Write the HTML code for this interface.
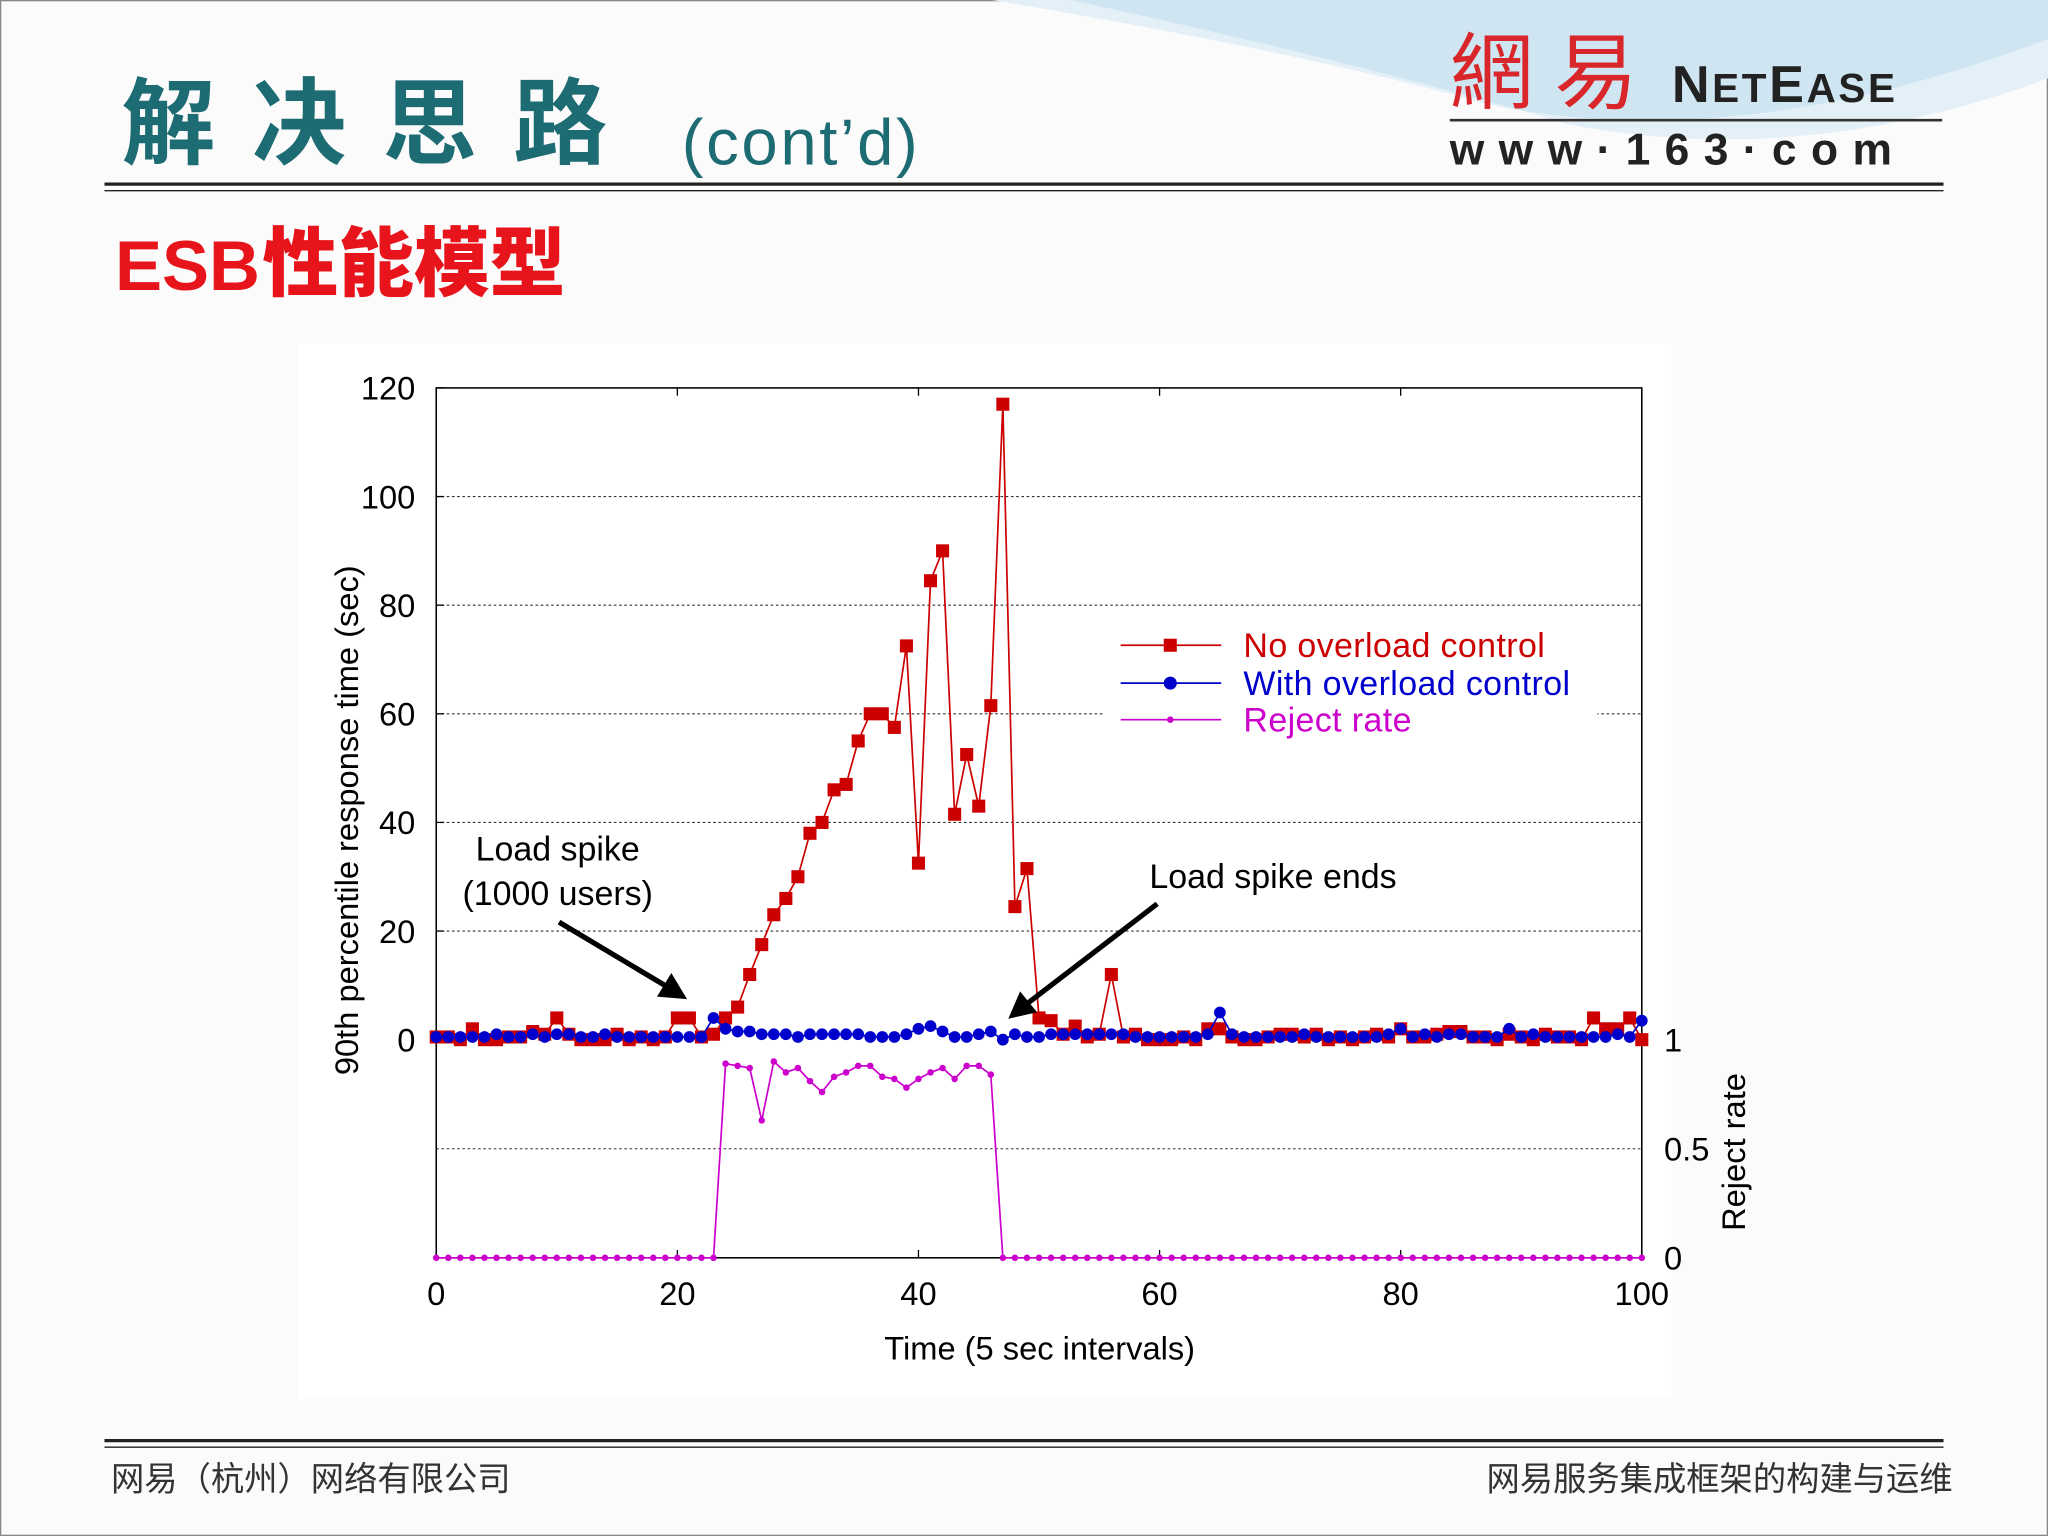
<!DOCTYPE html>
<html><head><meta charset="utf-8">
<style>
html,body{margin:0;padding:0;background:#fff;}
svg{display:block;}
text{font-family:"Liberation Sans","Noto Sans CJK SC",sans-serif;}
</style></head>
<body>
<svg id="root" width="2048" height="1536" viewBox="0 0 1568 1176" xmlns="http://www.w3.org/2000/svg">
<rect x="0" y="0" width="1568" height="1176" fill="#fbfbfb"/>
<rect x="0.5" y="0.5" width="1567" height="1175" fill="none" stroke="#888"/>
<path d="M760 0 Q1000 40 1140 80 Q1330 120 1568 30 L1568 0 Z" fill="#cfe6f2"/>
<path d="M820 0 Q1050 50 1200 95 Q1380 130 1568 60 L1568 30 Q1330 120 1140 80 Q1000 40 760 0Z" fill="#e4f0f7"/>
<text x="93" y="120" font-size="72" font-weight="bold" fill="#1d6b73" letter-spacing="28" font-family="'Noto Serif CJK SC',serif">解决思路</text>
<text x="522" y="126" font-size="50" fill="#1d6b73" letter-spacing="2">(cont’d)</text>
<text x="1110" y="78" font-size="64" fill="#d8262a" letter-spacing="16" font-family="'Noto Sans CJK TC',sans-serif">網易</text>
<text x="1280" y="78" font-size="40" font-weight="bold" fill="#222" letter-spacing="2">N<tspan font-size="31">ET</tspan>E<tspan font-size="31">ASE</tspan></text>
<line x1="1110" y1="92" x2="1487" y2="92" stroke="#333" stroke-width="2"/>
<text x="1110" y="126" font-size="34" font-weight="bold" fill="#222" letter-spacing="11">www·163·com</text>
<line x1="80" y1="141" x2="1488" y2="141" stroke="#222" stroke-width="2.5"/>
<line x1="80" y1="146" x2="1488" y2="146" stroke="#222" stroke-width="1"/>
<text x="88" y="222" font-size="54" font-weight="bold" fill="#e8141c">ESB<tspan font-size="58" font-family="'Noto Sans CJK SC',sans-serif" font-weight="900" dx="2">性能模型</tspan></text>
<rect x="228" y="263" width="1052" height="808" fill="#fff"/>
<g id="chart"></g>
<line x1="80" y1="1103" x2="1488" y2="1103" stroke="#222" stroke-width="2.5"/>
<line x1="80" y1="1108" x2="1488" y2="1108" stroke="#222" stroke-width="1"/>
<text x="85" y="1141" font-size="25.5" fill="#333" font-family="'Noto Serif CJK SC',serif">网易（杭州）网络有限公司</text>
<text x="1495" y="1141" font-size="25.5" fill="#333" text-anchor="end" font-family="'Noto Serif CJK SC',serif">网易服务集成框架的构建与运维</text>
</svg>
<script>
const xTicks=[0,20,40,60,80,100];
const yTicks=[0,20,40,60,80,100,120];
const rTicks=[0,0.5,1];
const noControl=[0.5,0.5,0,2,0,0,0.5,0.5,1.5,1,4,1,0,0,0,1,0,0.5,0,0.5,4,4,0.5,1,4,6,12,17.5,23,26,30,38,40,46,47,55,60,60,57.5,72.5,32.5,84.5,90,41.5,52.5,43,61.5,117,24.5,31.5,4,3.5,1,2.5,0.5,1,12,0.5,1,0,0,0,0.5,0,2,2,0.5,0,0,0.5,1,1,0.5,1,0,0.5,0,0.5,1,0.5,2,0.5,0.5,1,1.5,1.5,0.5,0.5,0,1,0.5,0,1,0.5,0.5,0,4,2,2,4,0];
const withControl=[0.5,0.5,0.5,0.5,0.5,1,0.5,0.5,1,0.5,1,1,0.5,0.5,1,0.5,0.5,0.5,0.5,0.5,0.5,0.5,0.5,4,2,1.5,1.5,1,1,1,0.5,1,1,1,1,1,0.5,0.5,0.5,1,2,2.5,1.5,0.5,0.5,1,1.5,0,1,0.5,0.5,1,1,1,1,1,1,1,0.5,0.5,0.5,0.5,0.5,0.5,1,5,1,0.5,0.5,0.5,0.5,0.5,1,0.5,0.5,0.5,0.5,0.5,0.5,1,2,0.5,1,0.5,1,1,0.5,0.5,0.5,2,0.5,1,0.5,0.5,0.5,0.5,0.5,0.5,1,0.5,3.5];
const rejectRate=[0,0,0,0,0,0,0,0,0,0,0,0,0,0,0,0,0,0,0,0,0,0,0,0,0.89,0.88,0.87,0.63,0.9,0.85,0.87,0.81,0.76,0.83,0.85,0.88,0.88,0.83,0.82,0.78,0.82,0.85,0.87,0.82,0.88,0.88,0.84,0,0,0,0,0,0,0,0,0,0,0,0,0,0,0,0,0,0,0,0,0,0,0,0,0,0,0,0,0,0,0,0,0,0,0,0,0,0,0,0,0,0,0,0,0,0,0,0,0,0,0,0,0,0];
const NS="http://www.w3.org/2000/svg";
const g=document.getElementById('chart');
const X0=334,X1=1257,YB=796,YT=297,RB=963;
const sx=v=>X0+(X1-X0)*v/100;
const sy=v=>YB-(YB-YT)*v/120;
const sr=v=>RB-(RB-YB)*v;
function mk(tag,attrs){const e=document.createElementNS(NS,tag);for(const k in attrs)e.setAttribute(k,attrs[k]);g.appendChild(e);return e;}
function txt(x,y,s,size,fill,anchor,extra){const e=mk('text',Object.assign({x:x,y:y,'font-size':size,fill:fill,'text-anchor':anchor||'start'},extra||{}));e.textContent=s;return e;}
yTicks.forEach(v=>{if(v>0&&v<120){const l=mk('line',{x1:X0,x2:X1,y1:sy(v),y2:sy(v),stroke:'#333','stroke-width':0.8,'stroke-dasharray':'2,2'});

}
const t=txt(X0-16,sy(v)+9,String(v),25,'#000','end');


const tk=mk('line',{x1:X0,x2:X0+6,y1:sy(v),y2:sy(v),stroke:'#000'});

});
rTicks.forEach(v=>{if(v===0.5){const l=mk('line',{x1:X0,x2:X1,y1:sr(v),y2:sr(v),stroke:'#333','stroke-width':0.8,'stroke-dasharray':'2,2'});

}
const t=txt(X1+17,sr(v)+9,String(v),25,'#000','start');

});
xTicks.forEach(v=>{const t=txt(sx(v),RB+36,String(v),25,'#000','middle');


const tk=mk('line',{x1:sx(v),x2:sx(v),y1:RB,y2:RB-6,stroke:'#000'});


const tk2=mk('line',{x1:sx(v),x2:sx(v),y1:YT,y2:YT+6,stroke:'#000'});

});
const frame=mk('rect',{x:X0,y:YT,width:X1-X0,height:RB-YT,fill:'none',stroke:'#000','stroke-width':1.2});


let t=txt(796,1041,'Time (5 sec intervals)',25,'#000','middle');


t=txt(0,0,'90th percentile response time (sec)',25,'#000','middle',{transform:'translate(274,628) rotate(-90)'});


t=txt(0,0,'Reject rate',25,'#000','middle',{transform:'translate(1336,882) rotate(-90)'});


const lb=mk('rect',{x:845,y:478,width:378,height:92,fill:'#fff'});


const leg=[['No overload control','#cc0000','sq',494],['With overload control','#0000cc','ci',523],['Reject rate','#cc00cc','sm',551]];
leg.forEach(L=>{const ln=mk('line',{x1:858,x2:935,y1:L[3],y2:L[3],stroke:L[1],'stroke-width':1.3});


let m=L[2]==='sq'?mk('rect',{x:891,y:L[3]-5,width:10,height:10,fill:L[1]}):mk('circle',{cx:896,cy:L[3],r:L[2]==='ci'?5:2.5,fill:L[1]});


const tt=txt(952,L[3]+9,L[0],26,L[1],'start',{'letter-spacing':'0.3'});

});
function series(arr,ys,color,kind,name){arr=arr.slice(0,101);const pts=arr.map((v,i)=>sx(i)+','+ys(v)).join(' ');
const pl=mk('polyline',{points:pts,fill:'none',stroke:color,'stroke-width':1.3});


arr.forEach((v,i)=>{let m;if(kind==='sq')m=mk('rect',{x:sx(i)-5,y:ys(v)-5,width:10,height:10,fill:color});else m=mk('circle',{cx:sx(i),cy:ys(v),r:kind==='ci'?4.5:2.5,fill:color});

});}
series(rejectRate,sr,'#cc00cc','sm','reject-rate');
series(noControl,sy,'#cc0000','sq','no-overload-control');
series(withControl,sy,'#0000cc','ci','with-overload-control');
t=txt(427,659,'Load spike',26,'#000','middle');


t=txt(427,693,'(1000 users)',26,'#000','middle');


t=txt(880,680,'Load spike ends',26,'#000','start');


let a=mk('line',{x1:428,y1:706,x2:510,y2:755,stroke:'#000','stroke-width':4});


a=mk('polygon',{points:'526,765 503,763 514,745',fill:'#000'});


a=mk('line',{x1:886,y1:692,x2:787,y2:768,stroke:'#000','stroke-width':4});


a=mk('polygon',{points:'772,780 781,759 794,775',fill:'#000'});


</script>
</body></html>
